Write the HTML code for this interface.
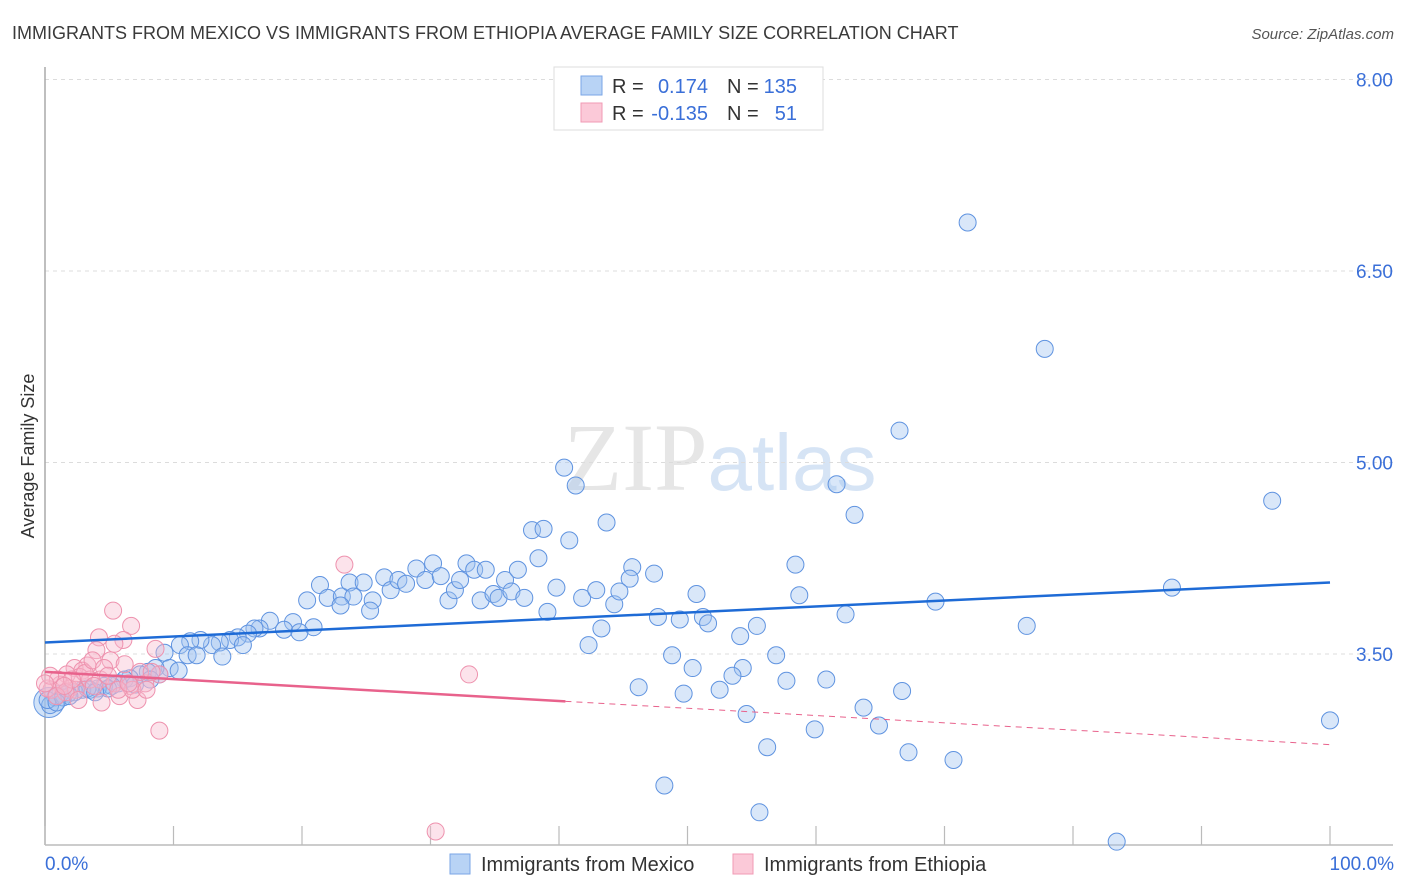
<!DOCTYPE html>
<html><head><meta charset="utf-8"><style>
body{margin:0;background:#fff;font-family:"Liberation Sans",sans-serif}
svg{display:block}
</style></head><body>
<svg id="chart" width="1406" height="892" viewBox="0 0 1406 892" xmlns="http://www.w3.org/2000/svg">
<text x="12" y="39" font-size="18" fill="#3a3a3a">IMMIGRANTS FROM MEXICO VS IMMIGRANTS FROM ETHIOPIA AVERAGE FAMILY SIZE CORRELATION CHART</text>
<text x="1394" y="39" font-size="15" fill="#555" text-anchor="end" font-style="italic">Source: ZipAtlas.com</text>
<text x="720" y="490" font-size="96" fill="#e6e6e6" text-anchor="middle" font-family="Liberation Serif, serif">ZIP<tspan fill="#d6e4f5" font-family="Liberation Sans, sans-serif" font-size="80">atlas</tspan></text>
<g id="grid"></g>
<g id="axes"></g>
<text transform="translate(34,456) rotate(-90)" font-size="18" fill="#333" text-anchor="middle">Average Family Size</text>
<g id="pts"></g>
<g id="trends"></g>
<g>
<rect x="554" y="67" width="269" height="63" fill="#fff" stroke="#ddd"/>
<rect x="581" y="76" width="21" height="19" fill="#b8d3f5" stroke="#7aa6e6"/>
<rect x="581" y="103" width="21" height="19" fill="#fbc9d8" stroke="#f09ab4"/>
<text x="612" y="93" font-size="20" fill="#333">R =</text>
<text x="708" y="93" font-size="20" fill="#3a6fd8" text-anchor="end">0.174</text>
<text x="727" y="93" font-size="20" fill="#333">N =</text>
<text x="797" y="93" font-size="20" fill="#3a6fd8" text-anchor="end">135</text>
<text x="612" y="120" font-size="20" fill="#333">R =</text>
<text x="708" y="120" font-size="20" fill="#3a6fd8" text-anchor="end">-0.135</text>
<text x="727" y="120" font-size="20" fill="#333">N =</text>
<text x="797" y="120" font-size="20" fill="#3a6fd8" text-anchor="end">51</text>
</g>
<g>
<rect x="450" y="854" width="20" height="20" fill="#b8d3f5" stroke="#7aa6e6"/>
<text x="481" y="871" font-size="20" fill="#333">Immigrants from Mexico</text>
<rect x="733" y="854" width="20" height="20" fill="#fbc9d8" stroke="#f09ab4"/>
<text x="764" y="871" font-size="20" fill="#333">Immigrants from Ethiopia</text>
</g>
<text x="45" y="870" font-size="19" fill="#3a6fd8">0.0%</text>
<text x="1394" y="870" font-size="19" fill="#3a6fd8" text-anchor="end">100.0%</text>
</svg>
<script>
const yTicks=[8.0,6.5,5.0,3.5];
const yTickLabels=["8.00","6.50","5.00","3.50"];
const xTicks=[0,10,20,30,40,50,60,70,80,90,100];
const mexX=[71.8,77.8,66.5,40.4,41.3,61.6,63.0,95.5,43.7,37.9,38.8,40.8,38.4,58.4,45.7,47.4,45.5,50.7,58.7,87.7,69.3,62.3,47.7,49.4,51.2,51.6,43.3,54.1,55.4,76.4,42.3,48.8,56.9,50.4,54.3,53.5,57.7,60.8,46.2,49.7,52.5,66.7,63.7,54.6,64.9,59.9,56.2,67.2,70.7,48.2,55.6,83.4,100,
21.4,20.4,22.0,23.1,23.7,24.0,24.8,25.5,25.3,26.4,26.9,27.5,28.1,28.9,29.6,30.2,30.8,31.4,31.9,32.3,32.8,33.4,33.9,34.3,34.9,35.3,35.8,36.3,36.8,37.3,39.1,39.8,41.8,42.9,44.3,44.7,19.3,18.6,17.5,16.7,16.3,15.8,15.0,14.4,13.6,13.0,12.1,11.3,10.5,11.1,9.3,9.7,10.4,8.6,8.0,7.4,6.6,6.2,5.7,5.2,4.6,4.1,3.5,2.9,2.3,1.8,1.2,0.8,0.4,0.2,13.8,11.8,15.4,20.9,19.8,23.0,8.9,7.0,8.2,3.3,4.9,3.9,1.4,1.9,0.9];
const mexY=[6.88,5.89,5.25,4.96,4.82,4.83,4.59,4.70,4.53,4.47,4.48,4.39,4.25,4.20,4.18,4.13,4.09,3.97,3.96,4.02,3.91,3.81,3.79,3.77,3.79,3.74,3.70,3.64,3.72,3.72,3.57,3.49,3.49,3.39,3.39,3.33,3.29,3.30,3.24,3.19,3.22,3.21,3.08,3.03,2.94,2.91,2.77,2.73,2.67,2.47,2.26,2.03,2.98,
4.04,3.92,3.94,3.95,4.06,3.95,4.06,3.92,3.84,4.10,4.00,4.08,4.05,4.17,4.08,4.21,4.11,3.92,4.00,4.08,4.21,4.16,3.92,4.16,3.97,3.94,4.08,3.99,4.16,3.94,3.83,4.02,3.94,4.00,3.89,3.99,3.75,3.69,3.76,3.70,3.70,3.66,3.63,3.61,3.59,3.57,3.61,3.60,3.57,3.49,3.51,3.39,3.37,3.39,3.36,3.34,3.31,3.30,3.27,3.25,3.25,3.23,3.22,3.22,3.20,3.19,3.19,3.16,3.10,3.14,3.48,3.49,3.57,3.71,3.67,3.88,3.34,3.26,3.30,3.23,3.23,3.20,3.16,3.17,3.12];
const ethX=[5.3,6.7,4.2,6.1,5.4,4.0,8.6,5.1,3.3,2.3,2.9,1.7,2.7,3.5,4.3,5.4,6.6,7.8,8.9,5.8,7.2,4.4,8.9,23.3,33.0,30.4,1.2,0.5,0.2,1.9,1.0,2.4,1.6,3.1,3.7,4.6,6.8,7.9,7.4,8.3,6.2,4.9,0.9,0.4,2.1,3.8,5.7,6.5,1.5,0,2.6];
const ethY=[3.84,3.72,3.63,3.61,3.58,3.53,3.54,3.45,3.41,3.39,3.37,3.34,3.32,3.30,3.30,3.27,3.25,3.27,3.34,3.17,3.14,3.12,2.90,4.20,3.34,2.11,3.26,3.22,3.23,3.23,3.30,3.22,3.20,3.35,3.45,3.39,3.22,3.22,3.36,3.36,3.42,3.33,3.17,3.33,3.30,3.25,3.22,3.27,3.25,3.27,3.14];
const mexTrend=[3.59,4.06];
const ethTrend=[3.36,2.79];
const ethSolidEnd=40.5;

const X0=45,X1=1330,YREF=654,PXU=127.67;
function sx(v){return X0+(X1-X0)*v/100;}
function sy(v){return YREF-(v-3.5)*PXU;}
const NS="http://www.w3.org/2000/svg";
function mk(tag,parent,attrs){const e=document.createElementNS(NS,tag);for(const k in attrs)e.setAttribute(k,attrs[k]);parent.appendChild(e);return e;}
const grid=document.getElementById('grid'),axes=document.getElementById('axes'),pts=document.getElementById('pts'),tr=document.getElementById('trends');
yTicks.forEach((t,i)=>{
  const l=mk('line',grid,{x1:45,x2:1393,y1:sy(t),y2:sy(t),stroke:'#dcdcdc','stroke-dasharray':'4,4'});
  
  
  const tx=mk('text',grid,{x:1393,y:sy(t)+7,'font-size':19,fill:'#3a6fd8','text-anchor':'end'});
  tx.textContent=yTickLabels[i];
  
  
});
const ya=mk('line',axes,{x1:45,x2:45,y1:67,y2:845,stroke:'#aaa','stroke-width':1.5});


const xa=mk('line',axes,{x1:45,x2:1393,y1:845,y2:845,stroke:'#bbb','stroke-width':1.5});


xTicks.forEach(t=>{
  const l=mk('line',axes,{x1:sx(t),x2:sx(t),y1:826,y2:845,stroke:'#bbb','stroke-width':1.2});
  
  
});
const big=mk('circle',pts,{cx:sx(0.3),cy:sy(3.12),r:15,fill:'rgba(150,190,240,0.45)',stroke:'#6a9be3','stroke-width':1});


mexX.forEach((x,i)=>{
  const c=mk('circle',pts,{cx:sx(x),cy:sy(mexY[i]),r:8.5,fill:'rgba(160,196,240,0.4)',stroke:'#5f93e0','stroke-width':1});
  
  
});
ethX.forEach((x,i)=>{
  const c=mk('circle',pts,{cx:sx(x),cy:sy(ethY[i]),r:8.5,fill:'rgba(248,185,205,0.4)',stroke:'#ee92ae','stroke-width':1});
  
  
});
const bl=mk('line',tr,{x1:sx(0),y1:sy(mexTrend[0]),x2:sx(100),y2:sy(mexTrend[1]),stroke:'#1e6bd6','stroke-width':2.5});


const ym=ethTrend[0]+(ethTrend[1]-ethTrend[0])*ethSolidEnd/100;
const pl=mk('line',tr,{x1:sx(0),y1:sy(ethTrend[0]),x2:sx(ethSolidEnd),y2:sy(ym),stroke:'#e8628c','stroke-width':2.5});


const pd=mk('line',tr,{x1:sx(ethSolidEnd),y1:sy(ym),x2:sx(100),y2:sy(ethTrend[1]),stroke:'#e8628c','stroke-width':1,'stroke-dasharray':'6,5'});


</script>
</body></html>
